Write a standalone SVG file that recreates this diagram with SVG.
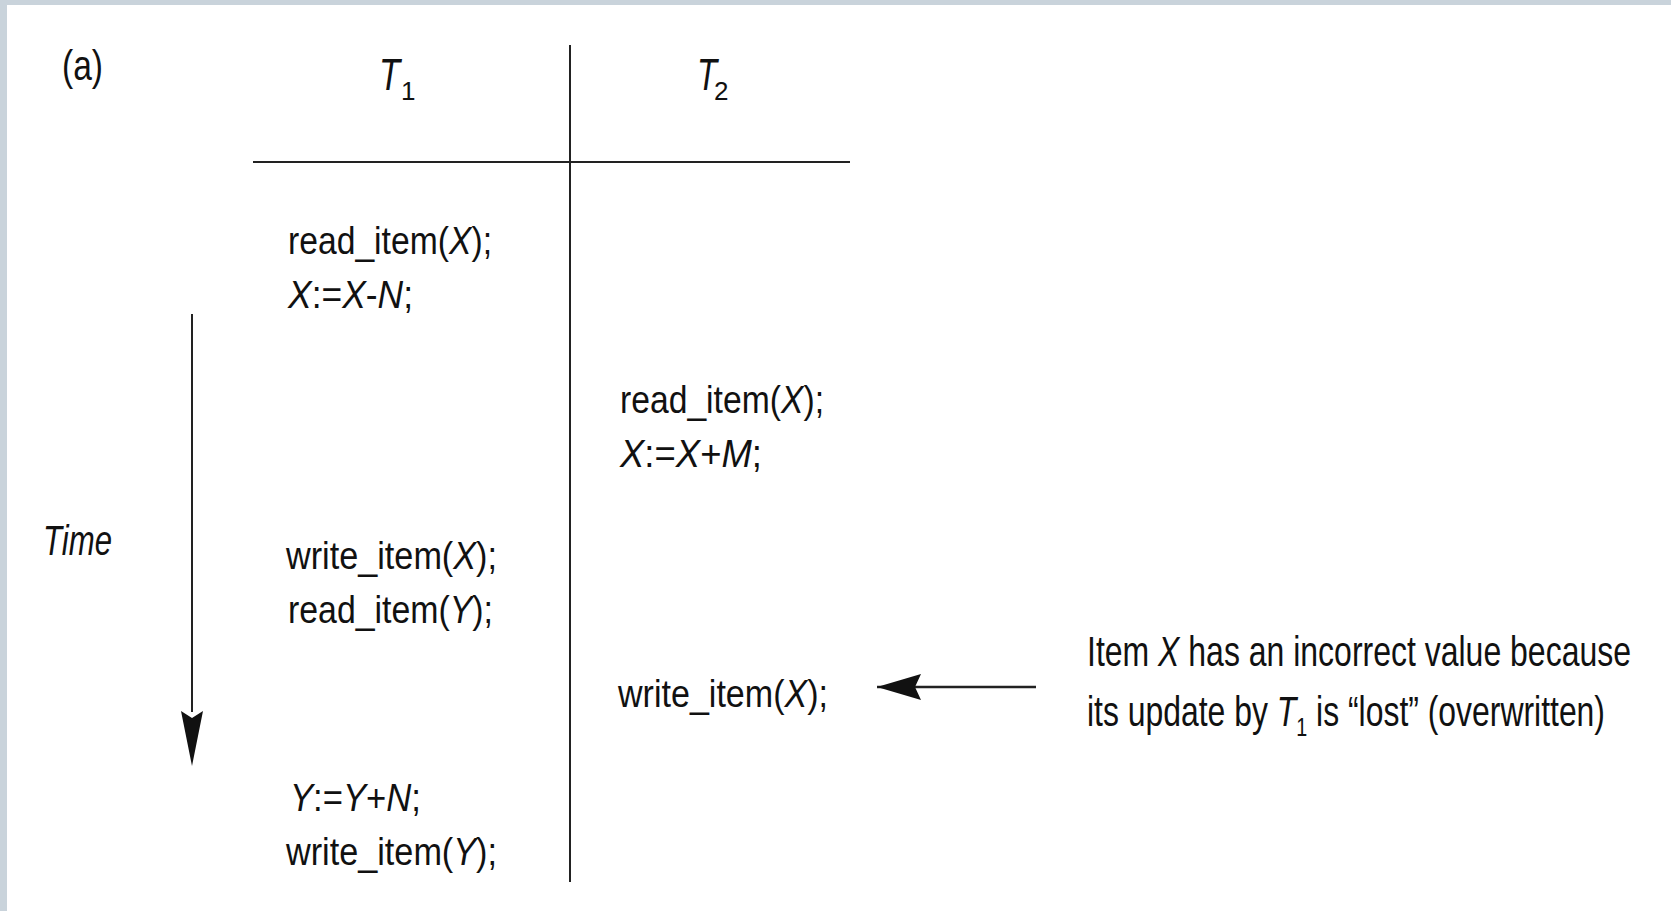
<svg xmlns="http://www.w3.org/2000/svg" width="1671" height="911" viewBox="0 0 1671 911">
<style>
.t{font-family:"Liberation Sans",Arial,sans-serif;fill:#111;}
.c{font-size:38px;}
.n{font-size:42px;}
.i{font-style:italic;}
.ln{stroke:#222;fill:none;}
</style>
<defs>
<marker id="ah" viewBox="0 0 44 30" refX="44" refY="15" markerWidth="44" markerHeight="30" markerUnits="userSpaceOnUse" orient="auto">
<path d="M0,2 L44,15 L0,28 L6,15 Z" fill="#111"/>
</marker>
</defs>
<rect x="0" y="0" width="1671" height="911" fill="#ffffff"/>
<rect x="0" y="0" width="1671" height="5" fill="#c9d3db"/>
<rect x="0" y="0" width="7" height="911" fill="#c9d3db"/>

<g id="label-a"><text class="t" x="62" y="80" font-size="42" textLength="41" lengthAdjust="spacingAndGlyphs">(a)</text></g>

<g id="table">
<line class="ln" x1="570" y1="45" x2="570" y2="882" stroke-width="2"/>
<line class="ln" x1="253" y1="162" x2="850" y2="162" stroke-width="2"/>
</g>

<g id="header-T1"><text class="t i" x="379" y="90" font-size="44" textLength="21" lengthAdjust="spacingAndGlyphs">T</text><text class="t" x="401" y="100" font-size="26">1</text></g>
<g id="header-T2"><text class="t i" x="697" y="90" font-size="44" textLength="20" lengthAdjust="spacingAndGlyphs">T</text><text class="t" x="714" y="100" font-size="26">2</text></g>

<g id="t1-step1">
<text class="t c" x="288" y="254" textLength="204" lengthAdjust="spacingAndGlyphs">read_item(<tspan class="i">X</tspan>);</text>
<text class="t c" x="288" y="308" textLength="125" lengthAdjust="spacingAndGlyphs"><tspan class="i">X</tspan>:=<tspan class="i">X</tspan>-<tspan class="i">N</tspan>;</text>
</g>

<g id="t2-step1">
<text class="t c" x="620" y="413" textLength="204" lengthAdjust="spacingAndGlyphs">read_item(<tspan class="i">X</tspan>);</text>
<text class="t c" x="620" y="467" textLength="142" lengthAdjust="spacingAndGlyphs"><tspan class="i">X</tspan>:=<tspan class="i">X</tspan>+<tspan class="i">M</tspan>;</text>
</g>

<g id="t1-step2">
<text class="t c" x="286" y="569" textLength="211" lengthAdjust="spacingAndGlyphs">write_item(<tspan class="i">X</tspan>);</text>
<text class="t c" x="288" y="623" textLength="205" lengthAdjust="spacingAndGlyphs">read_item(<tspan class="i">Y</tspan>);</text>
</g>

<g id="t2-step2">
<text class="t c" x="618" y="707" textLength="210" lengthAdjust="spacingAndGlyphs">write_item(<tspan class="i">X</tspan>);</text>
</g>

<g id="t1-step3">
<text class="t c" x="290" y="811" textLength="131" lengthAdjust="spacingAndGlyphs"><tspan class="i">Y</tspan>:=<tspan class="i">Y</tspan>+<tspan class="i">N</tspan>;</text>
<text class="t c" x="286" y="865" textLength="211" lengthAdjust="spacingAndGlyphs">write_item(<tspan class="i">Y</tspan>);</text>
</g>

<g id="time-label"><text class="t i" x="43" y="555" font-size="43" textLength="69" lengthAdjust="spacingAndGlyphs">Time</text></g>

<g id="note">
<text class="t n" x="1087" y="666" textLength="544" lengthAdjust="spacingAndGlyphs">Item <tspan class="i">X</tspan> has an incorrect value because</text>
<text class="t n" x="1087" y="726" textLength="518" lengthAdjust="spacingAndGlyphs">its update by <tspan class="i">T</tspan><tspan font-size="26" dy="10">1</tspan><tspan dy="-10"> is “lost” (overwritten)</tspan></text>
</g>

<g id="connectors">
<line class="ln" x1="192" y1="314" x2="192" y2="712" stroke-width="2"/>
<path d="M181,711 L192,766 L203,711 L192,718 Z" fill="#111"/>
<line class="ln" x1="1036" y1="687" x2="877" y2="687" stroke-width="2.5" marker-end="url(#ah)"/>
</g>
</svg>
